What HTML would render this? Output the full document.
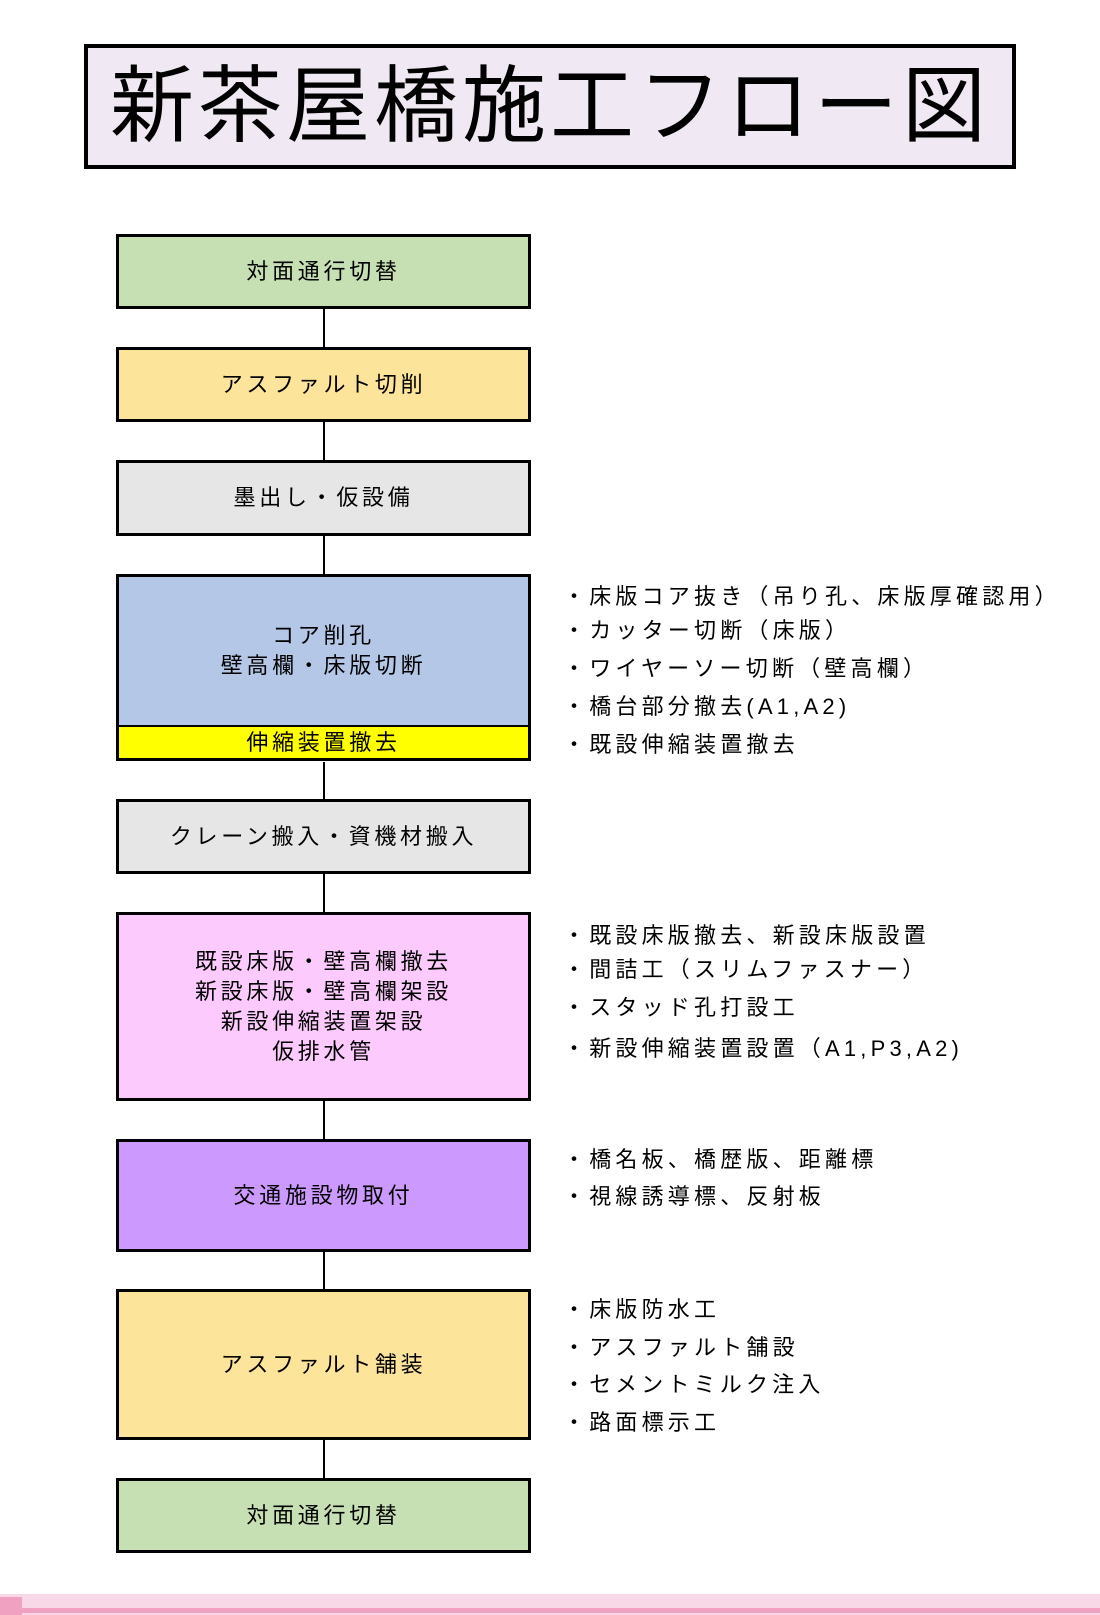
<!DOCTYPE html>
<html><head><meta charset="utf-8"><style>
body{margin:0;width:1100px;height:1615px;background:#fff;position:relative;overflow:hidden;font-family:"Liberation Sans","Noto Sans CJK JP",sans-serif;color:#000}
.t{position:absolute;left:84px;top:44px;width:924px;height:117px;border:4px solid #000;background:#f0e8f2;font-size:84px;line-height:117px;letter-spacing:4px;text-align:center;white-space:nowrap}
.b{position:absolute;left:116px;width:409px;border:3px solid #000;display:flex;align-items:center;justify-content:center;text-align:center;font-size:22px;letter-spacing:3.7px;line-height:30px}
.l{position:absolute;left:323px;width:2px;background:#000}
.r{position:absolute;left:563px;font-size:22px;letter-spacing:4.2px;white-space:nowrap;line-height:24px}
</style></head><body>
<div class="t">新茶屋橋施工フロー図</div>
<div class="l" style="top:309px;height:38px"></div>
<div class="l" style="top:422px;height:38px"></div>
<div class="l" style="top:536px;height:38px"></div>
<div class="l" style="top:762px;height:37px"></div>
<div class="l" style="top:874px;height:38px"></div>
<div class="l" style="top:1101px;height:38px"></div>
<div class="l" style="top:1252px;height:37px"></div>
<div class="l" style="top:1440px;height:38px"></div>
<div class="b" style="top:234px;height:69px;background:#c6e0b4">対面通行切替</div>
<div class="b" style="top:347px;height:69px;background:#fde49b">アスファルト切削</div>
<div class="b" style="top:460px;height:70px;background:#e7e6e6">墨出し・仮設備</div>
<div class="b" style="top:574px;height:148px;background:#b4c7e7;border-bottom:none">コア削孔<br>壁高欄・床版切断</div>
<div class="b" style="top:725px;height:31px;background:#ffff00;border-top:2px solid #000">伸縮装置撤去</div>
<div class="b" style="top:799px;height:69px;background:#e7e6e6">クレーン搬入・資機材搬入</div>
<div class="b" style="top:912px;height:183px;background:#fccafc">既設床版・壁高欄撤去<br>新設床版・壁高欄架設<br>新設伸縮装置架設<br>仮排水管</div>
<div class="b" style="top:1139px;height:107px;background:#cc99ff">交通施設物取付</div>
<div class="b" style="top:1289px;height:145px;background:#fde49b">アスファルト舗装</div>
<div class="b" style="top:1478px;height:69px;background:#c6e0b4">対面通行切替</div>
<div class="r" style="top:585px">・床版コア抜き（吊り孔、床版厚確認用）</div>
<div class="r" style="top:619px">・カッター切断（床版）</div>
<div class="r" style="top:657px">・ワイヤーソー切断（壁高欄）</div>
<div class="r" style="top:695px">・橋台部分撤去(A1,A2)</div>
<div class="r" style="top:733px">・既設伸縮装置撤去</div>
<div class="r" style="top:924px">・既設床版撤去、新設床版設置</div>
<div class="r" style="top:958px">・間詰工（スリムファスナー）</div>
<div class="r" style="top:996px">・スタッド孔打設工</div>
<div class="r" style="top:1037px">・新設伸縮装置設置（A1,P3,A2)</div>
<div class="r" style="top:1148px">・橋名板、橋歴版、距離標</div>
<div class="r" style="top:1185px">・視線誘導標、反射板</div>
<div class="r" style="top:1298px">・床版防水工</div>
<div class="r" style="top:1336px">・アスファルト舗設</div>
<div class="r" style="top:1373px">・セメントミルク注入</div>
<div class="r" style="top:1411px">・路面標示工</div>
<div style="position:absolute;left:0;top:1594px;width:1100px;height:21px;background:#f8d8e6"></div>
<div style="position:absolute;left:0;top:1608px;width:1100px;height:5px;background:#f0a0c0"></div>
<div style="position:absolute;left:0;top:1597px;width:22px;height:18px;background:#f0a0c0"></div>
</body></html>
